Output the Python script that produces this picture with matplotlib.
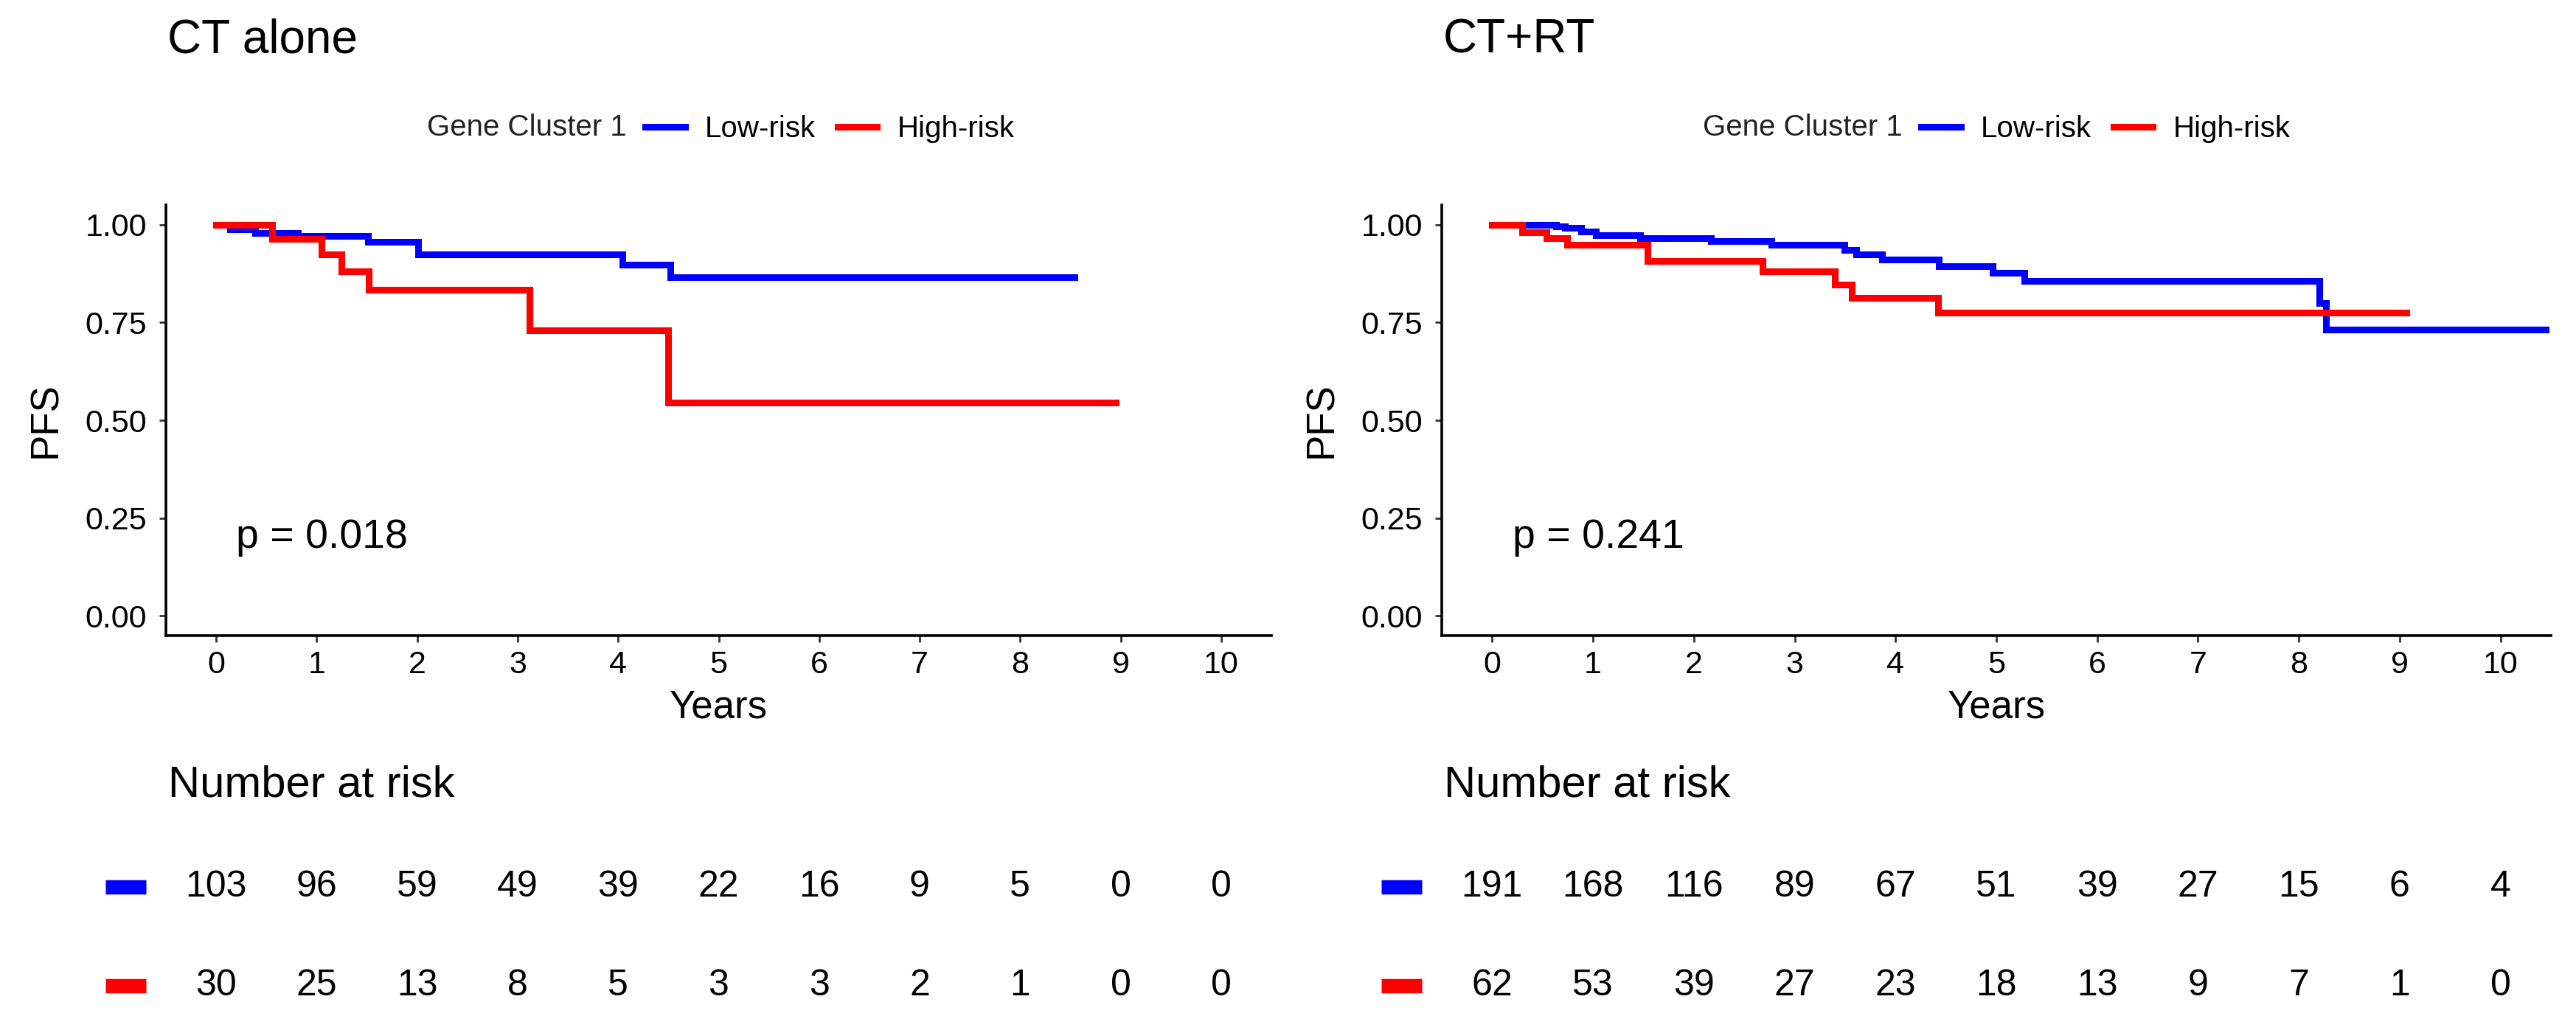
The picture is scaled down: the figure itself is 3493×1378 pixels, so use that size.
import matplotlib
matplotlib.use("Agg")
import matplotlib.pyplot as plt
from matplotlib.transforms import blended_transform_factory

plt.rcParams['font.family'] = ['Liberation Sans', 'DejaVu Sans']

# ---------------- data ----------------
panel_titles = ["CT alone", "CT+RT"]
group_labels = ["Low-risk", "High-risk"]
legend_title = "Gene Cluster 1"
p_values = ["p = 0.018", "p = 0.241"]
years = list(range(0, 11))
ytick_vals = [0.00, 0.25, 0.50, 0.75, 1.00]
ytick_labels = ["0.00", "0.25", "0.50", "0.75", "1.00"]

# CT alone
ct_low_t = [0, 0.14, 0.39, 0.81, 1.51, 2.01, 4.04, 4.52, 8.54]
ct_low_s = [1.0, 0.988, 0.979, 0.970, 0.955, 0.923, 0.898, 0.865, 0.865]
ct_high_t = [0, 0.56, 1.05, 1.25, 1.52, 3.12, 4.50, 8.95]
ct_high_s = [1.0, 0.963, 0.924, 0.880, 0.833, 0.729, 0.546, 0.546]

# CT+RT
rt_low_t = [0, 0.63, 0.72, 0.88, 1.03, 1.47, 2.17, 2.77, 3.49, 3.61, 3.87,
            4.43, 4.96, 5.28, 8.20, 8.27, 10.45]
rt_low_s = [1.0, 0.996, 0.991, 0.982, 0.973, 0.966, 0.958, 0.948, 0.936,
            0.924, 0.910, 0.894, 0.876, 0.856, 0.800, 0.732, 0.732]
rt_high_t = [0, 0.30, 0.54, 0.74, 1.54, 2.68, 3.40, 3.57, 4.42, 9.07]
rt_high_s = [1.0, 0.981, 0.965, 0.948, 0.907, 0.881, 0.847, 0.813, 0.775, 0.775]

# numbers at risk
ct_risk_low = [103, 96, 59, 49, 39, 22, 16, 9, 5, 0, 0]
ct_risk_high = [30, 25, 13, 8, 5, 3, 3, 2, 1, 0, 0]
rt_risk_low = [191, 168, 116, 89, 67, 51, 39, 27, 15, 6, 4]
rt_risk_high = [62, 53, 39, 27, 23, 18, 13, 9, 7, 1, 0]

colors = ["#0000FF", "#FF0000"]

# ---------------- figure ----------------
W, H = 3493, 1378
fig = plt.figure(figsize=(W / 100, H / 100), dpi=100)
fig.patch.set_facecolor("white")


def fx(px):
    return px / W


def fy(py):
    return 1 - py / H


ax_top, ax_bot = 278, 862
axes_px = [(225, 1724), (1955, 3459)]

panels = [
    (ct_low_t, ct_low_s, ct_high_t, ct_high_s, ct_risk_low, ct_risk_high),
    (rt_low_t, rt_low_s, rt_high_t, rt_high_s, rt_risk_low, rt_risk_high),
]

for i, (x0, x1) in enumerate(axes_px):
    lt, ls, ht, hs, rl, rh = panels[i]
    ax = fig.add_axes([fx(x0), fy(ax_bot), (x1 - x0) / W, (ax_bot - ax_top) / H])
    l1, = ax.step(lt, ls, where="post", color=colors[0], lw=6.5,
                  solid_joinstyle="miter", label=group_labels[0])
    l2, = ax.step(ht, hs, where="post", color=colors[1], lw=6.5,
                  solid_joinstyle="miter", label=group_labels[1])
    ax.set_xlim(-0.5, 10.5)
    ax.set_ylim(-0.05, 1.05)
    ax.set_xticks(years)
    ax.set_xticklabels([str(y) for y in years])
    ax.set_yticks(ytick_vals)
    ax.set_yticklabels(ytick_labels)
    for s in ["top", "right"]:
        ax.spines[s].set_visible(False)
    for s in ["left", "bottom"]:
        ax.spines[s].set_linewidth(2.6)
        ax.spines[s].set_color("black")
    ax.tick_params(axis="both", length=6.5, width=2.0, color="#333333",
                   labelsize=31, labelcolor="black")
    ax.tick_params(axis="y", pad=12)
    ax.tick_params(axis="x", pad=8)
    ax.set_xlabel("Years", fontsize=38)
    ax.xaxis.set_label_coords(0.5, -0.125)
    ax.set_ylabel("PFS", fontsize=38)
    ax.yaxis.set_label_coords(-0.092, 0.5)
    ax.text(0.2, 0.2, p_values[i], fontsize=40, ha="left", va="center")

    # title
    fig.text(fx(x0 + 2), fy(54), panel_titles[i], fontsize=46,
             ha="left", va="center")

    # legend
    hx = x0 + 652
    fig.text(fx(hx - 27), fy(173), legend_title, fontsize=29, ha="right",
             va="center", color="#222222")
    fig.legend(handles=[l1, l2], labels=group_labels, loc="center left",
               bbox_to_anchor=(fx(hx - 2), fy(175)), ncol=2, frameon=False,
               borderpad=0, borderaxespad=0, handlelength=1.33,
               handletextpad=0.67, columnspacing=0.75, fontsize=29)

    # number at risk
    fig.text(fx(x0 + 3), fy(1065), "Number at risk", fontsize=43,
             ha="left", va="center")
    trans = blended_transform_factory(ax.transData, fig.transFigure)
    for row, (vals, col, ypx) in enumerate([(rl, colors[0], 1203),
                                            (rh, colors[1], 1337)]):
        ax.plot([-1.1, -0.7], [fy(ypx), fy(ypx)], transform=trans,
                color=col, lw=14, solid_capstyle="butt", clip_on=False)
        for yr, v in zip(years, vals):
            ax.text(yr, fy(ypx), str(v), transform=trans, fontsize=36,
                    ha="center", va="center", clip_on=False)

fig.savefig("out.png", dpi=100, facecolor="white")
